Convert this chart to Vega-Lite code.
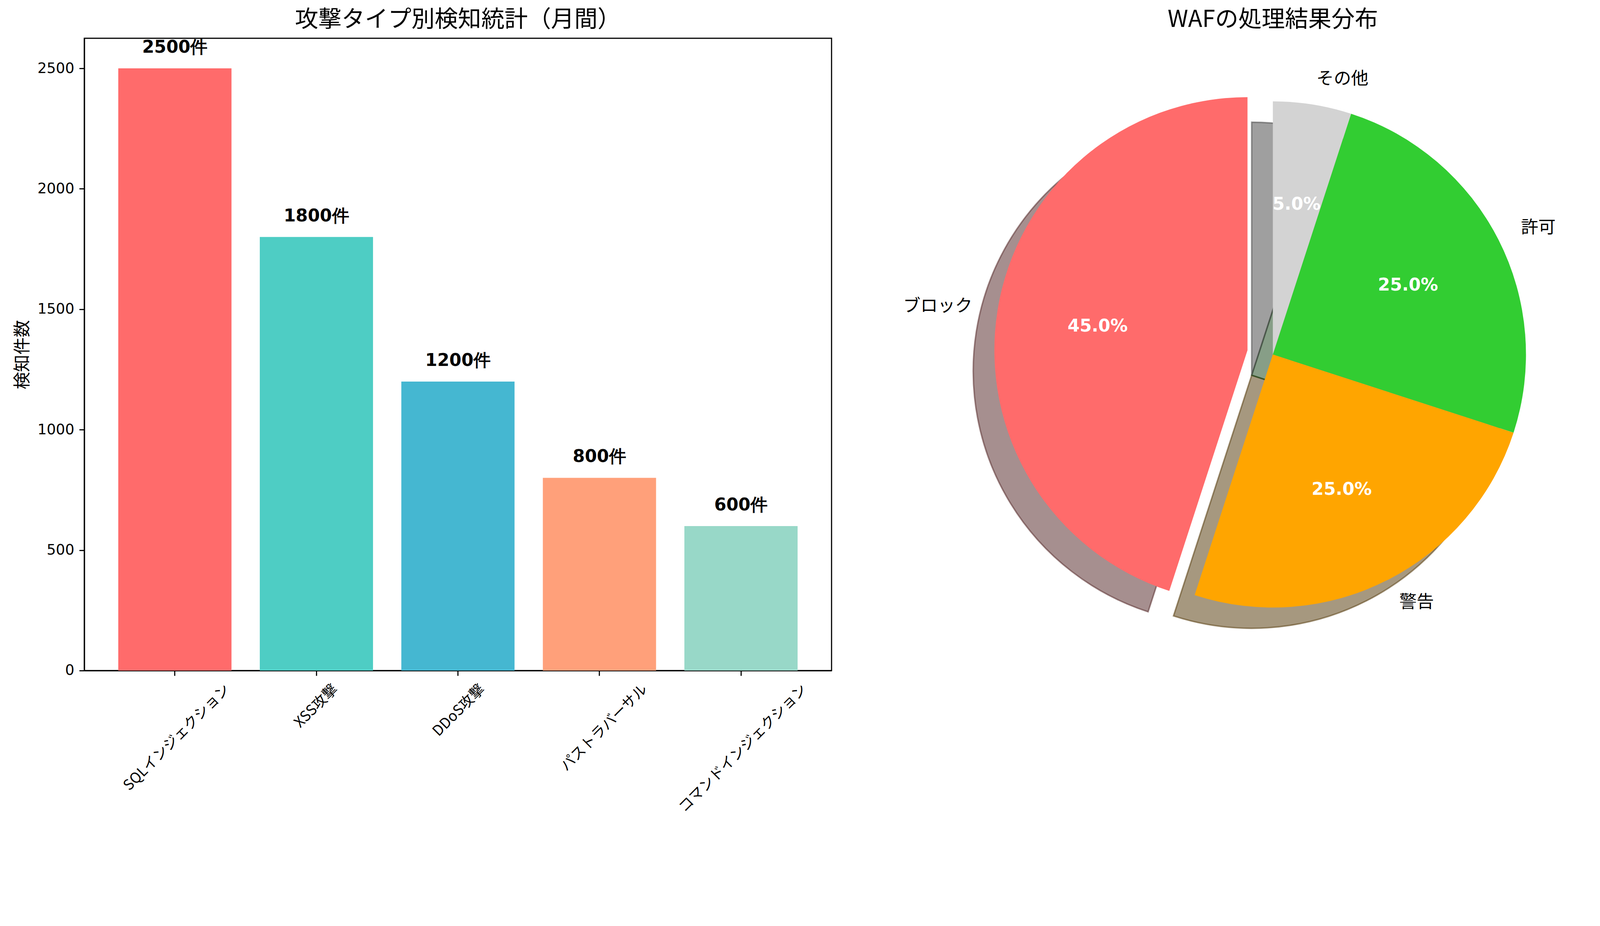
{
  "$schema": "https://vega.github.io/schema/vega-lite/v6.json",
  "background": "white",
  "padding": {"left": 33.8, "top": 19, "right": 20, "bottom": 20},
  "spacing": 320.2,
  "bounds": "flush",
  "resolve": {"scale": {"color": "independent", "fill": "independent", "stroke": "independent"}},
  "config": {
    "font": "DejaVu Sans",
    "title": {"font": "Noto Sans CJK JP", "fontSize": 59.6, "fontWeight": "normal", "offset": 16.5, "color": "#000000"},
    "axis": {
      "domainColor": "#000000", "domainWidth": 2.9,
      "tickColor": "#000000", "tickWidth": 2.9, "tickSize": 13,
      "labelColor": "#000000", "labelFontSize": 37.1, "labelPadding": 13,
      "titleColor": "#000000", "grid": false
    }
  },
  "hconcat": [
    {
      "width": 1913,
      "height": 1619,
      "view": {"stroke": "#000000", "strokeWidth": 2.9},
      "title": "攻撃タイプ別検知統計（月間）",
      "data": {
        "values": [
          {"attack": "SQLインジェクション", "count": 2500, "text": "2500件"},
          {"attack": "XSS攻撃", "count": 1800, "text": "1800件"},
          {"attack": "DDoS攻撃", "count": 1200, "text": "1200件"},
          {"attack": "パストラバーサル", "count": 800, "text": "800件"},
          {"attack": "コマンドインジェクション", "count": 600, "text": "600件"}
        ]
      },
      "encoding": {
        "x": {
          "field": "attack", "type": "nominal", "sort": null,
          "scale": {"paddingInner": 0.2, "paddingOuter": 0.24},
          "axis": {
            "title": null,
            "labelAngle": -45,
            "labelAlign": "right",
            "labelBaseline": "top",
            "labelFont": "Noto Sans CJK JP",
            "labelLimit": 0,
            "labelPadding": 16,
            "labelOffset": {
              "condition": [
                {"test": "datum.value === 'SQLインジェクション'", "value": 122},
                {"test": "datum.value === 'XSS攻撃'", "value": 36},
                {"test": "datum.value === 'DDoS攻撃'", "value": 50},
                {"test": "datum.value === 'パストラバーサル'", "value": 104}
              ],
              "value": 150
            }
          }
        },
        "y": {
          "field": "count", "type": "quantitative",
          "scale": {"domain": [0, 2625], "nice": false},
          "axis": {
            "values": [0, 500, 1000, 1500, 2000, 2500],
            "format": "d",
            "title": "検知件数",
            "titleFont": "Noto Sans CJK JP",
            "titleFontSize": 44.4,
            "titleFontWeight": "normal",
            "titlePadding": 15.1,
            "labelFont": "DejaVu Sans"
          }
        }
      },
      "layer": [
        {
          "mark": {"type": "bar"},
          "encoding": {
            "color": {
              "field": "attack", "type": "nominal", "sort": null,
              "scale": {
                "domain": ["SQLインジェクション", "XSS攻撃", "DDoS攻撃", "パストラバーサル", "コマンドインジェクション"],
                "range": ["#FF6B6B", "#4ECDC4", "#45B7D1", "#FFA07A", "#98D8C8"]
              },
              "legend": null
            }
          }
        },
        {
          "mark": {"type": "text", "font": "DejaVu Sans", "fontWeight": "bold", "fontSize": 44.4, "baseline": "bottom", "align": "center", "dy": -31.1, "color": "#000000"},
          "encoding": {"text": {"field": "text", "type": "nominal"}}
        }
      ]
    },
    {
      "width": 1619,
      "height": 1619,
      "view": {"stroke": null},
      "title": "WAFの処理結果分布",
      "data": {
        "values": [
          {"label": "ブロック", "share": 0.45, "order": 1},
          {"label": "警告", "share": 0.25, "order": 2},
          {"label": "許可", "share": 0.25, "order": 3},
          {"label": "その他", "share": 0.05, "order": 4}
        ]
      },
      "encoding": {
        "theta": {"field": "share", "type": "quantitative", "stack": true, "scale": {"range": [6.283185307179586, 0]}},
        "order": {"field": "order", "type": "quantitative"},
        "detail": {"field": "label", "type": "nominal"}
      },
      "layer": [
        {
          "mark": {"type": "arc", "outerRadius": 648, "innerRadius": 0, "xOffset": -54.2, "yOffset": 53.3, "strokeWidth": 3.7},
          "encoding": {
            "fill": {"field": "label", "type": "nominal", "scale": {"domain": ["ブロック", "警告", "許可", "その他"], "range": ["#4D2020", "#4D3200", "#0F3E0F", "#3F3F3F"]}, "legend": null},
            "stroke": {"field": "label", "type": "nominal", "scale": {"domain": ["ブロック", "警告", "許可", "その他"], "range": ["#4D2020", "#4D3200", "#0F3E0F", "#3F3F3F"]}, "legend": null},
            "fillOpacity": {"condition": {"test": "datum.label !== 'ブロック'", "value": 0.5}, "value": 0},
            "strokeOpacity": {"condition": {"test": "datum.label !== 'ブロック'", "value": 0.5}, "value": 0}
          }
        },
        {
          "mark": {"type": "arc", "outerRadius": 648, "innerRadius": 0, "xOffset": -119.1, "yOffset": 42.7, "strokeWidth": 3.7},
          "encoding": {
            "fill": {"field": "label", "type": "nominal", "scale": {"domain": ["ブロック", "警告", "許可", "その他"], "range": ["#4D2020", "#4D3200", "#0F3E0F", "#3F3F3F"]}, "legend": null},
            "stroke": {"field": "label", "type": "nominal", "scale": {"domain": ["ブロック", "警告", "許可", "その他"], "range": ["#4D2020", "#4D3200", "#0F3E0F", "#3F3F3F"]}, "legend": null},
            "fillOpacity": {"condition": {"test": "datum.label === 'ブロック'", "value": 0.5}, "value": 0},
            "strokeOpacity": {"condition": {"test": "datum.label === 'ブロック'", "value": 0.5}, "value": 0}
          }
        },
        {
          "mark": {"type": "arc", "outerRadius": 648, "innerRadius": 0},
          "encoding": {
            "color": {"field": "label", "type": "nominal", "scale": {"domain": ["ブロック", "警告", "許可", "その他"], "range": ["#FF6B6B", "#FFA500", "#32CD32", "#D3D3D3"]}, "legend": null},
            "opacity": {"condition": {"test": "datum.label !== 'ブロック'", "value": 1}, "value": 0}
          }
        },
        {
          "mark": {"type": "arc", "outerRadius": 648, "innerRadius": 0, "xOffset": -64.9, "yOffset": -10.7},
          "encoding": {
            "color": {"field": "label", "type": "nominal", "scale": {"domain": ["ブロック", "警告", "許可", "その他"], "range": ["#FF6B6B", "#FFA500", "#32CD32", "#D3D3D3"]}, "legend": null},
            "opacity": {"condition": {"test": "datum.label === 'ブロック'", "value": 1}, "value": 0}
          }
        },
        {
          "mark": {"type": "text", "radius": 388.4, "font": "DejaVu Sans", "fontWeight": "bold", "fontSize": 44.4, "color": "#FFFFFF", "align": "center", "baseline": "middle"},
          "encoding": {
            "text": {"field": "share", "type": "quantitative", "format": ".1%"},
            "opacity": {"condition": {"test": "datum.label !== 'ブロック'", "value": 1}, "value": 0}
          }
        },
        {
          "mark": {"type": "text", "radius": 388.4, "font": "DejaVu Sans", "fontWeight": "bold", "fontSize": 44.4, "color": "#FFFFFF", "align": "center", "baseline": "middle", "xOffset": -64.9, "yOffset": -10.7},
          "encoding": {
            "text": {"field": "share", "type": "quantitative", "format": ".1%"},
            "opacity": {"condition": {"test": "datum.label === 'ブロック'", "value": 1}, "value": 0}
          }
        },
        {
          "mark": {"type": "text", "radius": 712.9, "font": "Noto Sans CJK JP", "fontSize": 44.4, "color": "#000000", "align": "left", "baseline": "middle"},
          "encoding": {
            "text": {"field": "label", "type": "nominal"},
            "opacity": {"condition": {"test": "datum.label !== 'ブロック'", "value": 1}, "value": 0}
          }
        },
        {
          "mark": {"type": "text", "radius": 712.9, "font": "Noto Sans CJK JP", "fontSize": 44.4, "color": "#000000", "align": "right", "baseline": "middle", "xOffset": -64.9, "yOffset": -10.7},
          "encoding": {
            "text": {"field": "label", "type": "nominal"},
            "opacity": {"condition": {"test": "datum.label === 'ブロック'", "value": 1}, "value": 0}
          }
        }
      ]
    }
  ]
}
